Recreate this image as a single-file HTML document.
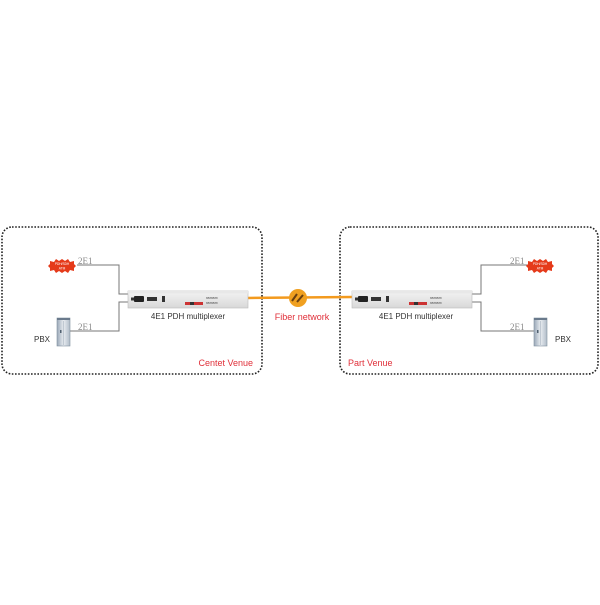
<!DOCTYPE html>
<html><head><style>html,body{margin:0;padding:0;background:#fff}</style></head><body>
<svg width="600" height="600" viewBox="0 0 600 600" xmlns="http://www.w3.org/2000/svg" font-family="Liberation Sans, sans-serif">
<defs>
<linearGradient id="dev" x1="0" y1="0" x2="0" y2="1"><stop offset="0" stop-color="#f4f4f4"/><stop offset="1" stop-color="#d8d8d8"/></linearGradient>
<linearGradient id="cab" x1="0" y1="0" x2="1" y2="0"><stop offset="0" stop-color="#9aa8b8"/><stop offset="0.5" stop-color="#e8ecf0"/><stop offset="1" stop-color="#b0bcc8"/></linearGradient>
<g id="burst"><polygon points="0,-7 3,-5 6,-7 8,-4 12,-5 12,-2 14,0 12,2 12,5 8,4 6,7 3,5 0,7 -3,5 -6,7 -8,4 -12,5 -12,2 -14,0 -12,-2 -12,-5 -8,-4 -6,-7 -3,-5" fill="#e53a1a"/><text x="0" y="-1" font-size="3.2" fill="#fff" text-anchor="middle">PDH/SDH</text><text x="0" y="3.5" font-size="3.2" fill="#fff" text-anchor="middle">ATM</text></g>
<g id="cabinet"><rect x="0" y="0" width="13" height="28" fill="url(#cab)" stroke="#8090a0" stroke-width="0.6"/><rect x="0" y="0" width="13" height="2" fill="#6a7a8c"/><line x1="6.5" y1="3" x2="6.5" y2="27" stroke="#8898a8" stroke-width="0.4"/><rect x="3" y="12" width="1.5" height="3" fill="#506070"/></g>
<g id="device"><rect x="0" y="0" width="120" height="17" fill="url(#dev)" stroke="#bbb" stroke-width="0.6"/><rect x="0" y="0" width="120" height="2.5" fill="#e8e8e8"/><rect x="6" y="5" width="10" height="6" rx="1" fill="#222"/><rect x="3" y="6.5" width="3" height="3" fill="#333"/><rect x="19" y="6" width="10" height="4" fill="#333"/><rect x="34" y="5" width="3" height="6" fill="#333"/><rect x="57" y="11" width="18" height="3" fill="#c33"/><rect x="62" y="11" width="4" height="3" fill="#333"/><text x="78" y="8" font-size="3" fill="#555">8888888</text><text x="78" y="13" font-size="3" fill="#555">8888888</text></g>
</defs>
<rect x="2" y="227" width="260" height="147" rx="10" fill="none" stroke="#222" stroke-width="1.6" stroke-dasharray="1.6,1.6"/>
<rect x="340" y="227" width="258" height="147" rx="10" fill="none" stroke="#222" stroke-width="1.6" stroke-dasharray="1.6,1.6"/>
<g stroke="#777" stroke-width="1" fill="none">
<polyline points="77,265 119,265 119,294 128,294"/>
<polyline points="128,302 119,302 119,331 70,331"/>
<polyline points="472,294 481,294 481,265 527,265"/>
<polyline points="472,302 481,302 481,331 534,331"/>
</g>
<line x1="247" y1="298" x2="353" y2="297" stroke="#f39a1e" stroke-width="2.5"/>
<circle cx="298" cy="298" r="9" fill="#f0a020"/>
<path d="M292,301 L297,294 M297,302 L303,295" stroke="#6a4010" stroke-width="2"/>
<use href="#burst" x="62" y="266"/>
<use href="#burst" x="540" y="266"/>
<use href="#cabinet" x="57" y="318"/>
<use href="#cabinet" x="534" y="318"/>
<use href="#device" x="128" y="291"/>
<use href="#device" x="352" y="291"/>
<g font-family="Liberation Serif, serif" font-size="9" fill="#888">
<text x="78" y="264">2E1</text><text x="78" y="330">2E1</text>
<text x="510" y="264">2E1</text><text x="510" y="330">2E1</text>
</g>
<g font-size="8" fill="#333">
<text x="188" y="319" text-anchor="middle">4E1 PDH multiplexer</text>
<text x="416" y="319" text-anchor="middle">4E1 PDH multiplexer</text>
<text x="34" y="342">PBX</text><text x="555" y="342">PBX</text>
</g>
<g font-size="9" fill="#e0303a">
<text x="302" y="320" text-anchor="middle">Fiber network</text>
<text x="253" y="366" text-anchor="end">Centet Venue</text>
<text x="348" y="366">Part Venue</text>
</g>
</svg>
</body></html>
